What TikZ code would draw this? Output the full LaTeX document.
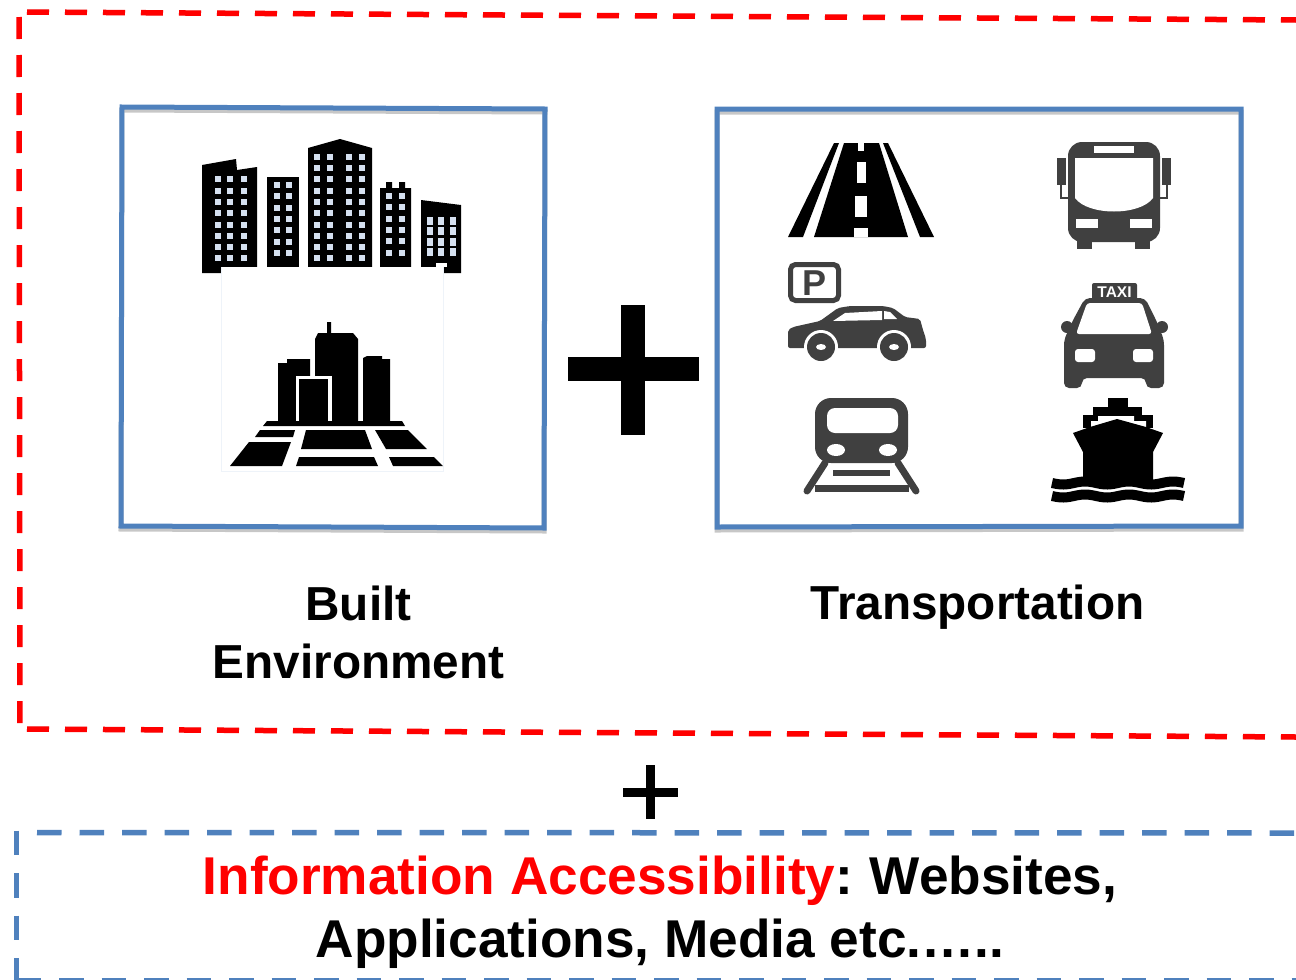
\documentclass[tikz,border=0pt]{standalone}
\usepackage{fontspec}
\setmainfont{Liberation Sans}
\definecolor{boxblue}{HTML}{4F81BD}
\definecolor{icongray}{HTML}{404040}
\definecolor{winblue}{HTML}{D5E0F0}
\tikzset{
	redframe/.style={draw=red,line width=5.5pt,dash pattern=on 22pt off 16pt},
	redshade/.style={draw=black!22,line width=5pt,dash pattern=on 22pt off 16pt,yshift=-3pt},
	blueframe/.style={draw=boxblue,line width=5.5pt,dash pattern=on 24.5pt off 18pt},
	panel/.style={draw=boxblue,line width=5pt,line join=miter},
	panelshade/.style={draw=black!22,line width=5pt,yshift=-3pt},
	heading/.style={font=\bfseries\fontsize{47.7}{58}\selectfont,align=center,inner sep=0pt},
	infotext/.style={font=\bfseries\fontsize{53.2}{63.5}\selectfont,align=center,inner sep=0pt},
	win/.style={fill=winblue},
	gap/.style={fill=white}
}
\begin{document}
\begin{tikzpicture}[x=1pt,y=-1pt]
		\useasboundingbox (0,0) rectangle (1296,980);
		\clip (0,0) rectangle (1296,980);
		\coordinate (R0) at (27,12);
		\coordinate (R1) at (1296,20);
		\coordinate (R2) at (19,17);
		\coordinate (R3) at (20,725);
		\coordinate (R4) at (27,729);
		\coordinate (R5) at (1296,737);
		\coordinate (I0) at (37,832.5);
		\coordinate (I1) at (1296,833);
		\coordinate (I2) at (16.5,830.5);
		\coordinate (I3) at (16.5,985);
		\coordinate (I4) at (16.5,981);
		\coordinate (I5) at (1296,981);
		\draw[redshade] (R0) -- (R1);
		\draw[redshade] (R4) -- (R5);
		\draw[redframe] (R0) -- (R1);
		\draw[redframe] (R2) -- (R3);
		\draw[redframe] (R4) -- (R5);
		\draw[blueframe] (I0) -- (I1);
		\draw[blueframe] (I2) -- (I3);
		\draw[blueframe] (I4) -- (I5);

		\draw[panelshade] (122,107) -- (545,109) -- (544,528) -- (121,526) -- cycle;
		\draw[panelshade] (717,109) -- (1241,109) -- (1241,526) -- (717,527) -- cycle;
		\draw[panel] (122,107) -- (545,109) -- (544,528) -- (121,526) -- cycle;
		\draw[panel] (717,109) -- (1241,109) -- (1241,526) -- (717,527) -- cycle;

		\fill (568,357) rectangle (699,381);
		\fill (621,305) rectangle (645,435);
		\fill (623,788) rectangle (678,797);
		\fill (646,765) rectangle (655,819);

		\fill (202,165) -- (236,159) -- (237,170) -- (257,167) -- (257,273) -- (202,273) -- cycle;
		\foreach \wx in {218,230,244}
			\foreach \wy in {179,191,202,213,225,236,247,258}
				\fill[win] (\wx-3,\wy-3) rectangle (\wx+3,\wy+3);
		\fill (267,177) rectangle (299,267);
		\foreach \wx in {277,289}
			\foreach \wy in {185,196,208,219,230,242,253}
				\fill[win] (\wx-3,\wy-3) rectangle (\wx+3,\wy+3);
		\fill (308,148) -- (340,139) -- (372,148) -- (372,267) -- (308,267) -- cycle;
		\foreach \wx in {317,330,349,362}
			\foreach \wy in {157,168,179,191,202,213,225,236,247,258}
				\fill[win] (\wx-3,\wy-3) rectangle (\wx+3,\wy+3);
		\fill (380,188) -- (386,188) -- (386,182) -- (392,182) -- (392,188) -- (399,188) -- (399,182) -- (405,182) -- (405,188) -- (411,188) -- (411,267) -- (380,267) -- cycle;
		\foreach \wx in {389,402}
			\foreach \wy in {196,207,219,230,241,253}
				\fill[win] (\wx-3,\wy-3) rectangle (\wx+3,\wy+3);
		\fill (421,200) -- (461,205) -- (461,273) -- (421,273) -- cycle;
		\foreach \wx in {430,441,453}
			\foreach \wy in {221,231,242,252}
				\fill[win] (\wx-3,\wy-4) rectangle (\wx+3,\wy+4);
		\fill[gap] (221,267) rectangle (443,471);
		\fill[gap] (436,263) rectangle (447,267);
		\draw[draw=winblue!40,line width=1pt] (221,267) -- (221,471) -- (443,471) -- (443,267);

		\fill (315,339) -- (318,333) -- (327,333) -- (327,322) -- (331,322) -- (331,333) -- (353,333) -- (358,339) -- (358,422) -- (315,422) -- cycle;
		\fill (278,363) -- (287,363) -- (287,359) -- (310,359) -- (310,422) -- (278,422) -- cycle;
		\fill[gap] (296,376) rectangle (332,422);
		\fill (299,379) rectangle (328,422);
		\fill (363,358) -- (367,356) -- (382,356) -- (382,359) -- (390,359) -- (390,422) -- (363,422) -- cycle;
		\fill (267,421) -- (402,421) -- (405,426) -- (263,426) -- cycle;
		\fill (260,430) -- (295,430) -- (293,437) -- (255,437) -- cycle;
		\fill (306,430) -- (365,430) -- (372,449) -- (301,449) -- cycle;
		\fill (375,430) -- (408,430) -- (427,449) -- (386,449) -- cycle;
		\fill (249,442) -- (291,442) -- (282,466) -- (230,466) -- cycle;
		\fill (299,457) -- (374,457) -- (378,466) -- (296,466) -- cycle;
		\fill (389,457) -- (434,457) -- (443,466) -- (393,466) -- cycle;

		\fill (834,143) -- (839,143) -- (803,237) -- (788,237) -- cycle;
		\fill (883,143) -- (888,143) -- (934,237) -- (920,237) -- cycle;
		\fill (844,143) -- (879,143) -- (908,237) -- (814,237) -- cycle;
		\fill[gap] (858,143) rectangle (864,151);
		\fill[gap] (857,162) rectangle (866,183);
		\fill[gap] (855,196) rectangle (867,217);
		\fill[gap] (854,228) rectangle (868,237);

		\draw[icongray,line width=5pt,rounded corners=5pt] (790.5,264.5) rectangle (838.5,300.5);
		\node[inner sep=0pt,text=icongray,font=\bfseries\fontsize{36}{36}\selectfont] (parkP) at (814,283) {P};
		\fill[icongray,rounded corners=2pt] (788,348) -- (788,330) -- (793,327) -- (820,321) -- (838,308) -- (850,306) -- (883,306) -- (893,308) -- (905,317) -- (920,319) -- (923,330) -- (926,339) -- (926,348) -- cycle;
		\fill[gap] (833,321) -- (845,313) -- (882,311) -- (882,320) -- cycle;
		\fill[gap] (884,311) -- (890,312) -- (897,319) -- (884,319) -- cycle;
		\foreach \wx in {821,894} {
			\fill[gap] (\wx,347) circle [radius=17pt];
			\fill[icongray] (\wx,347) circle [radius=14pt];
			\fill[gap] (\wx,347) ellipse [x radius=5pt,y radius=3pt];
		}

		\draw[icongray,line width=7pt,line cap=round] (825,463) -- (807,491);
		\draw[icongray,line width=7pt,line cap=round] (898,463) -- (916,491);
		\fill[icongray] (833,470) rectangle (890,476);
		\fill[icongray] (815,485) rectangle (909,492);
		\fill[icongray,rounded corners=16pt] (815,398) rectangle (908,463);
		\fill[gap,rounded corners=8pt] (827,408) rectangle (898,433);
		\fill[gap] (836,450) ellipse [x radius=9pt,y radius=6pt];
		\fill[gap] (888,450) ellipse [x radius=9pt,y radius=6pt];

		\fill[icongray,rounded corners=14pt] (1068,142) rectangle (1160,242);
		\fill[icongray] (1077,238) rectangle (1092,249);
		\fill[icongray] (1135,238) rectangle (1150,249);
		\fill[gap] (1075,158) -- (1153,158) -- (1153,198) .. controls (1140,216) and (1088,216) .. (1075,198) -- cycle;
		\fill[gap] (1094,146) rectangle (1134,153);
		\fill[gap] (1076,219) rectangle (1098,228);
		\fill[gap] (1130,219) rectangle (1152,228);
		\fill[icongray] (1057,158) rectangle (1066,185);
		\fill[icongray] (1162,158) rectangle (1171,185);
		\draw[icongray,line width=1.5pt] (1061,185) -- (1061,198) -- (1068,198);
		\draw[icongray,line width=1.5pt] (1167,185) -- (1167,198) -- (1160,198);

		\fill[icongray,rounded corners=5pt] (1085,298) -- (1145,298) -- (1157,322) -- (1164,340) -- (1164,388) -- (1146,388) -- (1146,378) -- (1082,378) -- (1082,388) -- (1064,388) -- (1064,340) -- (1072,322) -- cycle;
		\fill[icongray] (1067,327) circle [radius=6pt];
		\fill[icongray] (1162,327) circle [radius=6pt];
		\fill[icongray,rounded corners=2pt] (1092,283) rectangle (1137,300);
		\node[inner sep=0pt,text=white,font=\bfseries\fontsize{15.5}{16}\selectfont] (taxisign) at (1114.5,292.5) {TAXI};
		\fill[gap,rounded corners=3pt] (1087,303) -- (1142,303) -- (1152,334) -- (1076,334) -- cycle;
		\fill[gap,rounded corners=3pt] (1075,349) rectangle (1095,362);
		\fill[gap,rounded corners=3pt] (1133,349) rectangle (1153,362);

		\fill (1108,398) rectangle (1128,407);
		\fill (1093,407) rectangle (1142,415);
		\fill (1083,415) rectangle (1153,428);
		\fill[gap] (1091,428) -- (1091,421) -- (1098,421) -- (1098,416) -- (1134,416) -- (1134,421) -- (1146,421) -- (1146,428) -- cycle;
		\fill (1073,433) -- (1090,427) -- (1117,419) -- (1146,427) -- (1163,433) -- (1153,452) -- (1153,482) -- (1083,482) -- (1083,452) -- cycle;
		\foreach \wy in {483,496}
			\draw[line width=10pt] plot[domain=1052:1184,samples=70] (\x,{\wy+1.5*sin((\x-1052)/44*360)});

		\node[heading] (envlabel) at (358.5,632) {Built\\Environment};
		\node[heading] (translabel) at (977.5,607) {Transportation};
		\node[infotext] (infolabel) at (660,912) {\textcolor{red}{Information Accessibility}:\hspace{-3pt} Websites,\\Applications, Media etc.…..};
		\end{tikzpicture}
\end{document}
